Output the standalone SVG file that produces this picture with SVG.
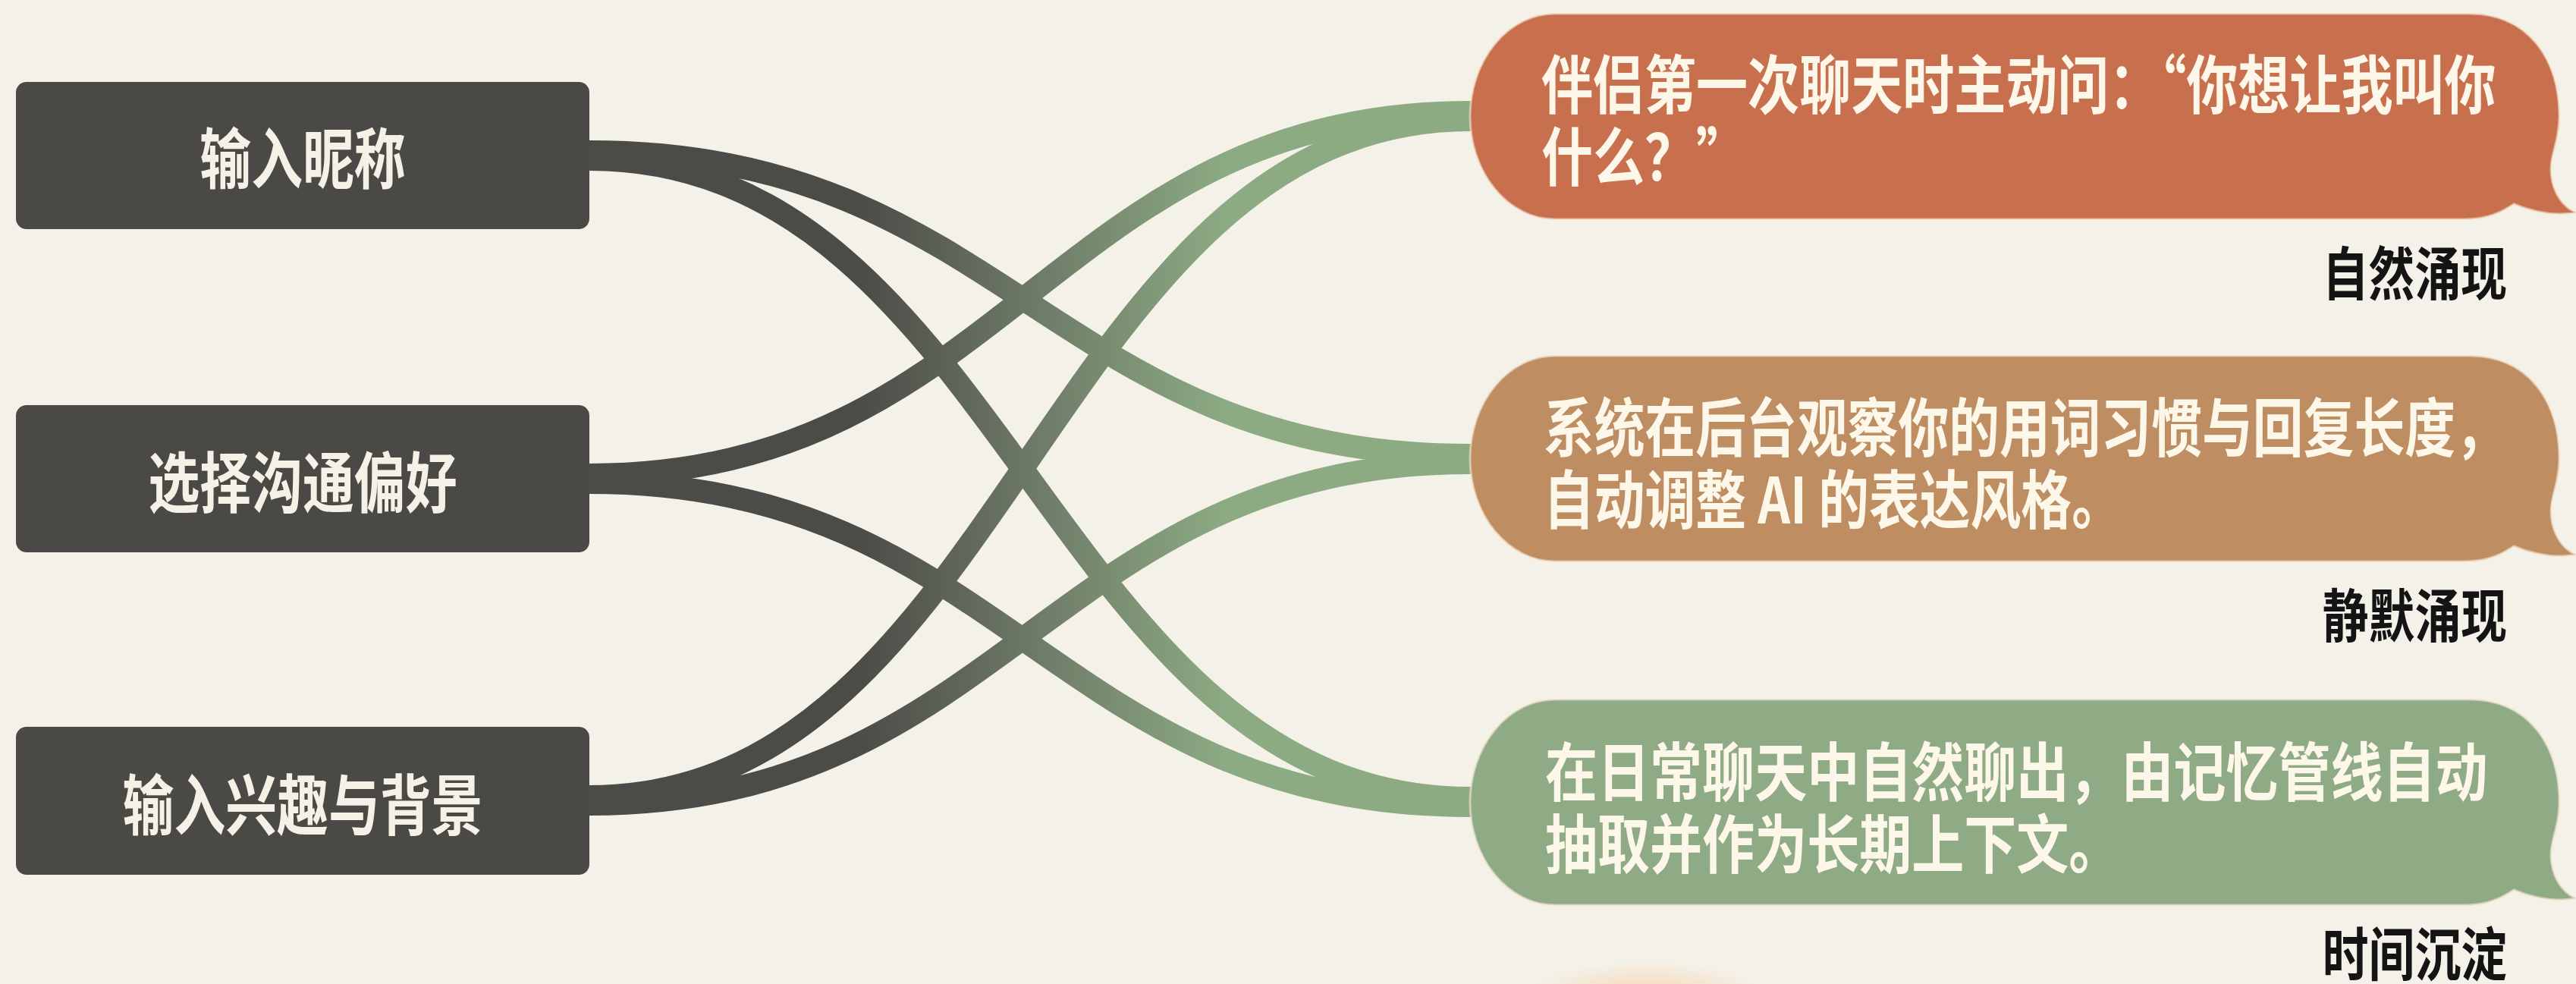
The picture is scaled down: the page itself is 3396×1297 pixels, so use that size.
<svg xmlns="http://www.w3.org/2000/svg" width="3396" height="1297" viewBox="0 0 3396 1297">
  <style>
    .box { fill: #4a4946; }
    .boxtxt { font-family: "Noto Sans CJK SC", "Noto Sans", sans-serif; font-weight: 700; font-size: 87px; fill: #f4f1e6; text-anchor: middle; dominant-baseline: central; }
    .btxt { font-family: "Noto Sans CJK SC", "Noto Sans", sans-serif; font-weight: 700; font-size: 84px; fill: #fdf7ea; dominant-baseline: central; }
    .lbl { font-family: "Noto Sans CJK SC", "Noto Sans", sans-serif; font-weight: 700; font-size: 76px; fill: #141414; text-anchor: end; dominant-baseline: central; }
    .strand { fill: none; stroke: url(#sg); stroke-width: 30; }
    .bub { stroke: #f7e6d2; stroke-width: 3; stroke-opacity: 0.6; }
  </style>
  <defs>
    <linearGradient id="sg" gradientUnits="userSpaceOnUse" x1="1130" y1="0" x2="1620" y2="0">
      <stop offset="0" stop-color="#4b4b47"/>
      <stop offset="0.5" stop-color="#6f7c68"/>
      <stop offset="1" stop-color="#8cab83"/>
    </linearGradient>
    <radialGradient id="glow" cx="0.5" cy="0.5" r="0.5">
      <stop offset="0" stop-color="#f6b67a" stop-opacity="0.55"/>
      <stop offset="1" stop-color="#f6b67a" stop-opacity="0"/>
    </radialGradient>
    <path id="bubble" d="M2050 0 H3255 C3335 0 3374 62 3374 135 C3374 168 3363 183 3363 205 C3363 232 3377 254 3396 262 C3366 268 3336 260 3314 251 C3296 263 3278 271 3250 271 H2050 A112 135.5 0 0 1 2050 0 Z"/>
  </defs>

  <rect x="0" y="0" width="3396" height="1297" fill="#f4f1e8"/>
  <ellipse cx="2170" cy="1322" rx="165" ry="55" fill="url(#glow)"/>

  <g id="connectors">
    <path class="strand" d="M745 200 H777 C1327 200 1388 600 1938 600 H1985"/>
    <path class="strand" d="M745 210 H777 C1327 210 1388 1052 1938 1052 H1985"/>
    <path class="strand" d="M745 626 H777 C1327 626 1388 148 1938 148 H1985"/>
    <path class="strand" d="M745 636 H777 C1327 636 1388 1062 1938 1062 H1985"/>
    <path class="strand" d="M745 1050 H777 C1327 1050 1388 158 1938 158 H1985"/>
    <path class="strand" d="M745 1060 H777 C1327 1060 1388 610 1938 610 H1985"/>
  </g>

  <g id="node-nickname">
    <rect class="box" x="21" y="108" width="756" height="194" rx="14"/>
    <text class="boxtxt" transform="translate(399 204) scale(0.78 1)">输入昵称</text>
  </g>
  <g id="node-preference">
    <rect class="box" x="21" y="534" width="756" height="194" rx="14"/>
    <text class="boxtxt" transform="translate(399 631) scale(0.78 1)">选择沟通偏好</text>
  </g>
  <g id="node-interest">
    <rect class="box" x="21" y="958" width="756" height="195" rx="14"/>
    <text class="boxtxt" transform="translate(399 1056) scale(0.78 1)">输入兴趣与背景</text>
  </g>

  <g id="bubble-natural">
    <use href="#bubble" class="bub" fill="#c8704e" transform="translate(0 18)"/>
    <text class="btxt" transform="translate(2032 106) scale(0.81 1)">伴侣第一次聊天时主动问：“你想让我叫你</text>
    <text class="btxt" transform="translate(2032 201) scale(0.81 1)">什么？”</text>
    <text class="lbl" transform="translate(3305 356) scale(0.8 1)">自然涌现</text>
  </g>
  <g id="bubble-silent">
    <use href="#bubble" class="bub" fill="#be8d61" transform="translate(0 469)"/>
    <text class="btxt" transform="translate(2035 558) scale(0.795 1)">系统在后台观察你的用词习惯与回复长度，</text>
    <text class="btxt" transform="translate(2035 653) scale(0.795 1)">自动调整 AI 的表达风格。</text>
    <text class="lbl" transform="translate(3305 807) scale(0.8 1)">静默涌现</text>
  </g>
  <g id="bubble-time">
    <use href="#bubble" class="bub" fill="#8fab86" transform="translate(0 922)"/>
    <text class="btxt" transform="translate(2037 1012) scale(0.822 1)">在日常聊天中自然聊出，由记忆管线自动</text>
    <text class="btxt" transform="translate(2037 1107) scale(0.822 1)">抽取并作为长期上下文。</text>
    <text class="lbl" transform="translate(3305 1253) scale(0.8 1)">时间沉淀</text>
  </g>
</svg>
